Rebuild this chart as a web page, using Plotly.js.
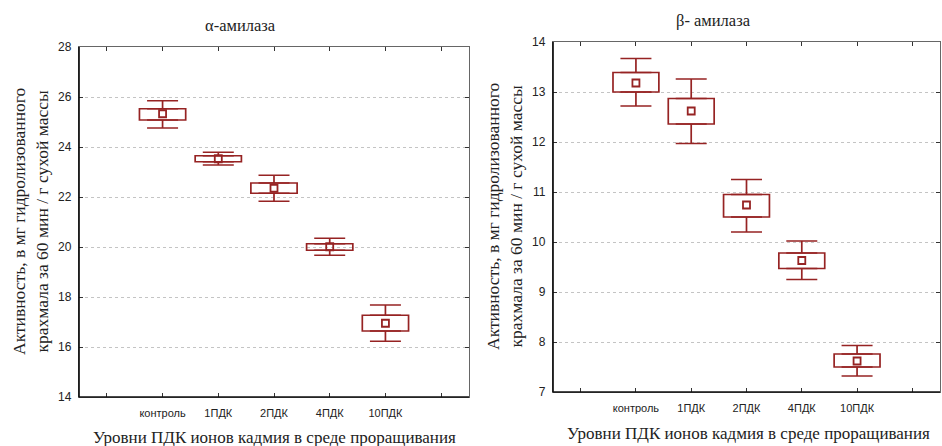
<!DOCTYPE html>
<html><head><meta charset="utf-8">
<script src="https://cdn.plot.ly/plotly-3.0.1.min.js"></script>
<style>body{margin:0;background:#fff}#c{width:942px;height:446px}</style>
</head><body><div id="c"></div>
<script>
var categories = ['контроль','1ПДК','2ПДК','4ПДК','10ПДК'];
var positions = [1,2,3,4,5];
var tickPositions = [0,1,2,3,4,5,6];
var tickText = ['','контроль','1ПДК','2ПДК','4ПДК','10ПДК',''];

// α-амилаза
var alphaMean  = [25.33, 23.53, 22.35, 20.01, 16.95];
var alphaBoxLo = [25.08, 23.41, 22.15, 19.87, 16.64];
var alphaBoxHi = [25.53, 23.65, 22.56, 20.13, 17.27];
var alphaWhLo  = [24.76, 23.28, 21.83, 19.67, 16.23];
var alphaWhHi  = [25.85, 23.79, 22.87, 20.35, 17.68];

// β-амилаза
var betaMean  = [13.18, 12.62, 10.74, 9.63, 7.62];
var betaBoxLo = [13.00, 12.36, 10.50, 9.47, 7.50];
var betaBoxHi = [13.39, 12.87, 10.95, 9.78, 7.76];
var betaWhLo  = [12.72, 11.97, 10.20, 9.25, 7.32];
var betaWhHi  = [13.67, 13.26, 11.25, 10.02, 7.93];

var red = 'rgb(150,35,35)';
var LW = 1.7;

function sub(a, b){ return a.map(function(v, i){ return +(v - b[i]).toFixed(4); }); }
function zeros(a){ return a.map(function(){ return 0; }); }

function boxBars(lo, hi, xa, ya){
  return {type:'bar', x:positions, base:lo, y:sub(hi, lo), width:0.83, xaxis:xa, yaxis:ya,
    marker:{color:'rgba(0,0,0,0)', line:{color:red, width:LW}}, showlegend:false, hoverinfo:'skip'};
}
function whisker(at, up, down, xa, ya){
  return {type:'scatter', mode:'markers', x:positions, y:at, xaxis:xa, yaxis:ya, showlegend:false,
    marker:{size:1, opacity:0}, hoverinfo:'skip',
    error_y:{type:'data', symmetric:false, array:up, arrayminus:down, color:red, thickness:LW, width:15.5}};
}
function meanTrace(m, xa, ya){
  return {type:'scatter', mode:'markers', x:positions, y:m, xaxis:xa, yaxis:ya, showlegend:false,
    marker:{symbol:'square-open', size:7, color:red, line:{width:1.8, color:red}}, hoverinfo:'skip'};
}

var data = [
  boxBars(alphaBoxLo, alphaBoxHi, 'x', 'y'),
  whisker(alphaBoxHi, sub(alphaWhHi, alphaBoxHi), zeros(alphaBoxHi), 'x', 'y'),
  whisker(alphaBoxLo, zeros(alphaBoxLo), sub(alphaBoxLo, alphaWhLo), 'x', 'y'),
  meanTrace(alphaMean, 'x', 'y'),
  boxBars(betaBoxLo, betaBoxHi, 'x2', 'y2'),
  whisker(betaBoxHi, sub(betaWhHi, betaBoxHi), zeros(betaBoxHi), 'x2', 'y2'),
  whisker(betaBoxLo, zeros(betaBoxLo), sub(betaBoxLo, betaWhLo), 'x2', 'y2'),
  meanTrace(betaMean, 'x2', 'y2')
];

var serif = 'Liberation Serif';
var sans = 'Liberation Sans';

function xax(domain, anchor){
  return {domain:domain, anchor:anchor, range:[-0.5,6.5], tickvals:tickPositions, ticktext:tickText,
    ticks:'inside', ticklen:4, tickcolor:'#333', showline:true, linecolor:'#666', linewidth:1.2, mirror:'ticks',
    showgrid:false, zeroline:false, tickfont:{family:sans, size:11, color:'#222'}, ticklabelstandoff:6, fixedrange:true};
}
function yax(domain, anchor, range, dtick){
  return {domain:domain, anchor:anchor, range:range, dtick:dtick, tick0:0,
    ticks:'inside', ticklen:4, tickcolor:'#333', showline:true, linecolor:'#666', linewidth:1.2, mirror:'ticks',
    showgrid:true, gridcolor:'#c4c4c4', griddash:'dot', gridwidth:1, zeroline:false,
    tickfont:{family:sans, size:12, color:'#222'}, ticklabelstandoff:4, fixedrange:true};
}

function frame(xa, ya){
  var s = {type:'line', xref:xa+' domain', yref:ya+' domain', layer:'above', line:{color:'#111', width:1.7}};
  return [
    Object.assign({}, s, {x0:0, x1:0, y0:0, y1:1}),
    Object.assign({}, s, {x0:0, x1:1, y0:0, y1:0})
  ];
}

var layout = {
  width:942, height:446, margin:{l:0,r:0,t:0,b:0}, paper_bgcolor:'#fff', plot_bgcolor:'#fff',
  showlegend:false, barmode:'overlay',
  xaxis: xax([79/942, 469/942], 'y'),
  yaxis: yax([1-397/446, 1-47/446], 'x', [14,28], 2),
  xaxis2: xax([553/942, 940/942], 'y2'),
  yaxis2: yax([1-392/446, 1-42/446], 'x2', [7,14], 1),
  shapes: frame('x','y').concat(frame('x2','y2')),
  annotations: [
    {text:'α-амилаза', xref:'paper', yref:'paper', x:240/942, y:1-25/446, showarrow:false,
      xanchor:'center', yanchor:'middle', font:{family:serif, size:16.5, color:'#222'}},
    {text:'β- амилаза', xref:'paper', yref:'paper', x:713/942, y:1-20/446, showarrow:false,
      xanchor:'center', yanchor:'middle', font:{family:serif, size:16.5, color:'#222'}},
    {text:'Активность, в мг гидролизованного<br>крахмала за 60 мин / г сухой массы', xref:'paper', yref:'paper',
      x:30/942, y:1-221/446, textangle:-90, showarrow:false, xanchor:'center', yanchor:'middle',
      font:{family:serif, size:17.5, color:'#222'}},
    {text:'Активность, в мг гидролизованного<br>крахмала за 60 мин / г сухой массы', xref:'paper', yref:'paper',
      x:504/942, y:1-216/446, textangle:-90, showarrow:false, xanchor:'center', yanchor:'middle',
      font:{family:serif, size:17.5, color:'#222'}},
    {text:'Уровни ПДК ионов кадмия в среде проращивания', xref:'paper', yref:'paper',
      x:274/942, y:1-437/446, showarrow:false, xanchor:'center', yanchor:'middle',
      font:{family:serif, size:17, color:'#222'}},
    {text:'Уровни ПДК ионов кадмия в среде проращивания', xref:'paper', yref:'paper',
      x:748/942, y:1-433/446, showarrow:false, xanchor:'center', yanchor:'middle',
      font:{family:serif, size:17, color:'#222'}}
  ]
};
Plotly.newPlot('c', data, layout, {displayModeBar:false, staticPlot:true});
</script></body></html>
